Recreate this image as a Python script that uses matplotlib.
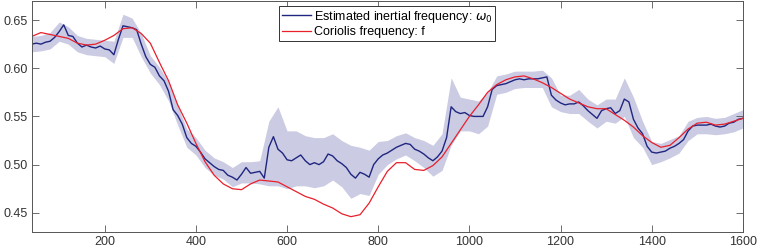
import numpy as np
import matplotlib
matplotlib.use("Agg")
import matplotlib.pyplot as plt

# ── Data ─────────────────────────────────────────────────────────────────────

# estimated inertial frequency, every 10 units from 40 to 1600
omega_x = np.arange(40, 1601, 10)
omega0 = [
    0.625, 0.626, 0.625, 0.627, 0.628, 0.632, 0.638, 0.645, 0.634, 0.633,
    0.626, 0.622, 0.624, 0.622, 0.621, 0.623, 0.620, 0.619, 0.614, 0.630,
    0.644, 0.643, 0.642, 0.640, 0.625, 0.612, 0.604, 0.601, 0.592, 0.587,
    0.576, 0.557, 0.551, 0.542, 0.528, 0.522, 0.519, 0.513, 0.506, 0.502,
    0.498, 0.495, 0.494, 0.489, 0.487, 0.484, 0.490, 0.497, 0.491, 0.492,
    0.493, 0.486, 0.518, 0.529, 0.516, 0.512, 0.505, 0.504, 0.507, 0.510,
    0.504, 0.500, 0.502, 0.500, 0.503, 0.511, 0.509, 0.504, 0.501, 0.497,
    0.490, 0.486, 0.492, 0.490, 0.487, 0.500, 0.506, 0.510, 0.512, 0.515,
    0.518, 0.520, 0.522, 0.521, 0.516, 0.514, 0.511, 0.507, 0.504, 0.508,
    0.514, 0.528, 0.560, 0.555, 0.553, 0.554, 0.551, 0.550, 0.550, 0.550,
    0.560, 0.578, 0.582, 0.583, 0.584, 0.586, 0.588, 0.589, 0.588, 0.589,
    0.589, 0.589, 0.590, 0.591, 0.572, 0.567, 0.564, 0.562, 0.563, 0.563,
    0.565, 0.561, 0.556, 0.552, 0.548, 0.556, 0.558, 0.559, 0.553, 0.556,
    0.568, 0.565, 0.547, 0.538, 0.532, 0.519, 0.513, 0.512, 0.513, 0.514,
    0.517, 0.519, 0.522, 0.526, 0.535, 0.540, 0.541, 0.541, 0.541, 0.542,
    0.540, 0.539, 0.540, 0.543, 0.544, 0.547, 0.548,
]

# Coriolis frequency and the uncertainty band edges, every 20 units
coarse_x = np.arange(40, 1601, 20)
coriolis = [
    0.633, 0.637, 0.635, 0.633, 0.631, 0.626, 0.624, 0.625, 0.629, 0.634,
    0.641, 0.642, 0.636, 0.626, 0.606, 0.587, 0.562, 0.543, 0.522, 0.503,
    0.489, 0.480, 0.475, 0.474, 0.480, 0.484, 0.483, 0.482, 0.477, 0.472,
    0.467, 0.464, 0.459, 0.455, 0.449, 0.446, 0.448, 0.460, 0.477, 0.493,
    0.502, 0.502, 0.495, 0.494, 0.499, 0.508, 0.522, 0.536, 0.550, 0.562,
    0.575, 0.583, 0.588, 0.591, 0.592, 0.589, 0.585, 0.580, 0.574, 0.568,
    0.564, 0.560, 0.558, 0.558, 0.552, 0.546, 0.539, 0.530, 0.523, 0.518,
    0.520, 0.528, 0.537, 0.543, 0.544, 0.541, 0.542, 0.545, 0.548,
]
band_hi = [
    0.633, 0.634, 0.637, 0.648, 0.643, 0.634, 0.631, 0.630, 0.629, 0.628,
    0.656, 0.652, 0.636, 0.613, 0.601, 0.586, 0.561, 0.537, 0.528, 0.515,
    0.507, 0.503, 0.497, 0.503, 0.503, 0.504, 0.545, 0.560, 0.535, 0.535,
    0.530, 0.528, 0.528, 0.532, 0.525, 0.520, 0.518, 0.515, 0.524, 0.525,
    0.530, 0.533, 0.528, 0.525, 0.520, 0.532, 0.590, 0.570, 0.568, 0.566,
    0.575, 0.592, 0.594, 0.597, 0.597, 0.597, 0.598, 0.590, 0.572, 0.572,
    0.578, 0.568, 0.562, 0.568, 0.568, 0.590, 0.570, 0.545, 0.524, 0.522,
    0.526, 0.530, 0.545, 0.549, 0.550, 0.548, 0.549, 0.553, 0.557,
]
band_lo = [
    0.617, 0.618, 0.620, 0.628, 0.625, 0.617, 0.614, 0.613, 0.612, 0.605,
    0.632, 0.632, 0.612, 0.595, 0.583, 0.566, 0.541, 0.518, 0.510, 0.497,
    0.489, 0.485, 0.477, 0.481, 0.481, 0.480, 0.478, 0.478, 0.475, 0.478,
    0.478, 0.476, 0.478, 0.484, 0.477, 0.465, 0.470, 0.468, 0.490, 0.500,
    0.506, 0.510, 0.504, 0.497, 0.488, 0.494, 0.520, 0.535, 0.535, 0.532,
    0.540, 0.573, 0.575, 0.579, 0.580, 0.580, 0.580, 0.560, 0.555, 0.553,
    0.553, 0.545, 0.538, 0.545, 0.543, 0.550, 0.528, 0.518, 0.500, 0.503,
    0.507, 0.512, 0.525, 0.532, 0.532, 0.531, 0.532, 0.534, 0.538,
]

x_ticks = [200, 400, 600, 800, 1000, 1200, 1400, 1600]
y_ticks = [0.45, 0.50, 0.55, 0.60, 0.65]

# ── Style ────────────────────────────────────────────────────────────────────

BAND_COLOR = "#cbcbe3"
OMEGA_COLOR = "#1f2680"
CORIOLIS_COLOR = "#e8202c"
AXIS_COLOR = "#555555"

plt.rcParams.update({
    "font.family": ["Liberation Sans", "DejaVu Sans"],
    "font.size": 9,
    "mathtext.fontset": "dejavusans",
})

fig = plt.figure(figsize=(7.58, 2.52), dpi=100)
ax = fig.add_axes([0.042, 0.079, 0.938, 0.918])

ax.fill_between(coarse_x, band_lo, band_hi, color=BAND_COLOR, linewidth=0)
ax.plot(omega_x, omega0, color=OMEGA_COLOR, linewidth=1.0,
        label=r"Estimated inertial frequency: $\omega_0$")
ax.plot(coarse_x, coriolis, color=CORIOLIS_COLOR, linewidth=0.9,
        label="Coriolis frequency: f")

ax.set_xlim(40, 1600)
ax.set_ylim(0.43, 0.67)
ax.set_xticks(x_ticks)
ax.set_yticks(y_ticks)
ax.set_yticklabels([f"{v:.2f}" for v in y_ticks])

ax.tick_params(direction="in", length=5, width=0.6, color=AXIS_COLOR,
               labelcolor="#333333", top=True, right=True, pad=3)
for sp in ax.spines.values():
    sp.set_color(AXIS_COLOR)
    sp.set_linewidth(0.7)

leg = ax.legend(loc="upper center", bbox_to_anchor=(0.5, 0.995),
                frameon=True, fancybox=False, framealpha=1,
                edgecolor="#333333", borderpad=0.25, labelspacing=0.12,
                handlelength=2.3, handletextpad=0.2, borderaxespad=0.3)
leg.get_frame().set_linewidth(0.7)

fig.savefig("out.png", dpi=100)
